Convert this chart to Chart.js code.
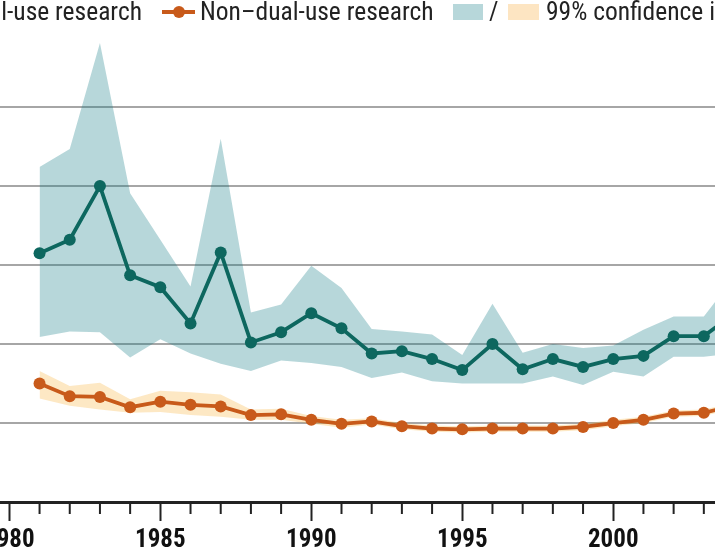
<!DOCTYPE html>
<html><head><meta charset="utf-8">
<script src="https://cdn.jsdelivr.net/npm/chart.js@4.4.1/dist/chart.umd.min.js"></script>
<style>
html,body{margin:0;padding:0;width:715px;height:550px;overflow:hidden;background:#fff;}
body{position:relative;}
#wrap{position:absolute;left:-100px;top:0;width:915px;height:550px;}
.lg{position:absolute;top:-2px;height:26px;font-family:'Liberation Sans Narrow','Roboto Condensed','DejaVu Sans Condensed',sans-serif;font-size:25.5px;color:#222;white-space:nowrap;line-height:26px;}
.box{position:absolute;top:4px;height:16px;}
</style></head><body>
<div id="wrap"><canvas id="c" width="915" height="550"></canvas></div>
<div class="lg" style="right:573px;">Dual-use research</div>
<div style="position:absolute;left:162px;top:10px;width:33px;height:4px;background:#c85a1a;"></div>
<div style="position:absolute;left:173px;top:6px;width:12px;height:12px;border-radius:50%;background:#c85a1a;"></div>
<div class="lg" style="left:200px;">Non–dual-use research</div>
<div class="box" style="left:453px;width:30px;background:#b7d7da;"></div>
<div class="lg" style="left:489px;">/</div>
<div class="box" style="left:508px;width:31px;background:#fde5c2;"></div>
<div class="lg" style="left:546px;">99% confidence interval</div>
<script>
const years = [1981,1982,1983,1984,1985,1986,1987,1988,1989,1990,1991,1992,1993,1994,1995,1996,1997,1998,1999,2000,2001,2002,2003,2004];
const dualUse = [3.15,3.32,4.00,2.87,2.72,2.26,3.16,2.02,2.15,2.39,2.20,1.88,1.91,1.81,1.67,2.00,1.68,1.81,1.71,1.81,1.85,2.10,2.10,2.38];
const dualUseUpper = [4.24,4.47,5.81,3.91,3.32,2.73,4.60,2.40,2.50,2.99,2.71,2.19,2.16,2.12,1.86,2.51,1.89,2.00,1.95,1.98,2.18,2.35,2.35,2.84];
const dualUseLower = [2.09,2.16,2.15,1.83,2.06,1.88,1.75,1.66,1.79,1.76,1.71,1.57,1.64,1.53,1.50,1.50,1.50,1.59,1.48,1.65,1.59,1.84,1.84,1.88];
const nonDualUse = [1.50,1.34,1.33,1.20,1.27,1.23,1.21,1.10,1.11,1.04,0.99,1.02,0.96,0.93,0.92,0.93,0.93,0.93,0.95,1.00,1.04,1.12,1.13,1.22];
const nonDualUseUpper = [1.66,1.47,1.51,1.30,1.41,1.39,1.36,1.17,1.18,1.09,1.04,1.06,1.00,0.97,0.96,0.97,0.97,0.97,0.99,1.04,1.08,1.16,1.17,1.26];
const nonDualUseLower = [1.31,1.22,1.17,1.13,1.14,1.10,1.08,1.04,1.04,0.99,0.94,0.98,0.92,0.89,0.88,0.89,0.89,0.89,0.91,0.96,1.00,1.08,1.09,1.18];
const majorTickYears = [1980,1985,1990,1995,2000];
const minorTickYears = [1981,1982,1983,1984,1986,1987,1988,1989,1991,1992,1993,1994,1996,1997,1998,1999,2001,2002,2003];

const TEAL = '#0d675f', ORANGE = '#c85a1a';
const pts = arr => years.map((yr,i)=>({x:yr,y:arr[i]}));
const FONT = "'Liberation Sans Narrow','Roboto Condensed','DejaVu Sans Condensed',sans-serif";

const minorTicks = {
  id:'minorTicks',
  afterDraw(chart){
    const xs = chart.scales.x, ctx = chart.ctx, y0 = chart.chartArea.bottom;
    ctx.save();
    ctx.strokeStyle = '#222'; ctx.lineWidth = 2;
    for (const yr of minorTickYears){
      const px = xs.getPixelForValue(yr);
      ctx.beginPath(); ctx.moveTo(px, y0); ctx.lineTo(px, y0+12); ctx.stroke();
    }
    ctx.restore();
  }
};

new Chart(document.getElementById('c'), {
  type:'line',
  data:{datasets:[
    {data:pts(dualUse), borderColor:TEAL, backgroundColor:TEAL, borderWidth:3.8, pointRadius:6, pointBorderWidth:0, pointBackgroundColor:TEAL, fill:false, tension:0},
    {data:pts(nonDualUse), borderColor:ORANGE, backgroundColor:ORANGE, borderWidth:3.8, pointRadius:6, pointBorderWidth:0, pointBackgroundColor:ORANGE, fill:false, tension:0},
    {data:pts(dualUseUpper), borderWidth:0, pointRadius:0, backgroundColor:'rgba(15,122,132,0.3)', fill:'+1', tension:0},
    {data:pts(dualUseLower), borderWidth:0, pointRadius:0, fill:false, tension:0},
    {data:pts(nonDualUseUpper), borderWidth:0, pointRadius:0, backgroundColor:'rgba(248,178,60,0.3)', fill:'+1', tension:0},
    {data:pts(nonDualUseLower), borderWidth:0, pointRadius:0, fill:false, tension:0}
  ]},
  options:{
    responsive:false, animation:false,
    layout:{padding:{left:100,right:100,top:36,bottom:0}},
    plugins:{legend:{display:false}, tooltip:{enabled:false}},
    scales:{
      x:{type:'linear', min:1979.69, max:2003.37,
        afterBuildTicks: s => { s.ticks = majorTickYears.map(v=>({value:v})); },
        ticks:{includeBounds:false, autoSkip:false, maxRotation:0, color:'#111', padding:5,
          font:{family:FONT, size:25, weight:'bold'}, callback:v=>String(v)},
        grid:{display:true, drawOnChartArea:false, drawTicks:true, tickLength:19, tickColor:'#222', tickWidth:2},
        border:{display:true, color:'#222', width:3},
        afterFit: s => { s.height = 48; }
      },
      y:{min:0, max:5.9,
        ticks:{stepSize:1, display:false, includeBounds:false},
        grid:{color: c => (c.tick && c.tick.value===0 ? 'rgba(0,0,0,0)' : '#a6a6a6'), lineWidth:2, drawTicks:false},
        border:{display:false},
        afterFit: s => { s.width = 0; }
      }
    }
  },
  plugins:[minorTicks]
});
</script>
</body></html>
